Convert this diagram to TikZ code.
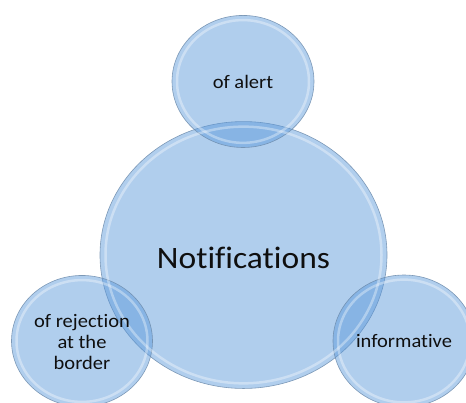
\documentclass[tikz,border=0pt]{standalone}
\usepackage{fontspec}
\setmainfont{Carlito}[Ligatures=NoCommon]
\definecolor{bfill}{RGB}{90,152,218}
\definecolor{bedge}{RGB}{110,140,172}
\definecolor{btext}{RGB}{15,15,15}
\begin{document}
\begin{tikzpicture}[x=1pt,y=-1pt,yscale=0.93,
  bubble/.style={circle, draw=bedge, line width=0.6pt, fill=bfill, fill opacity=0.48, draw opacity=0.85, inner sep=0pt, transform shape},
  rim/.style={white, line width=2.5pt, opacity=0.35},
  lbl/.style={align=center, text=btext, font=\fontsize{20.5}{22.5}\selectfont, inner sep=0pt, transform shape},
  biglbl/.style={text=btext, font=\fontsize{33.5}{36}\selectfont, inner sep=0pt, transform shape}]
\useasboundingbox (0,0) rectangle (466,433.33);
\node[bubble, minimum size=287pt] (main) at (243.5,274.2) {};
\node[bubble, minimum size=142pt] (alert) at (243,87.6) {};
\node[bubble, minimum size=141pt] (reject) at (82,366.7) {};
\node[bubble, minimum size=142pt] (info) at (404,366.7) {};
\draw[rim] (main.center) circle[radius=138];
\draw[rim] (alert.center) circle[radius=66];
\draw[rim] (reject.center) circle[radius=65.5];
\draw[rim] (info.center) circle[radius=66];
\node[biglbl] (tmain) at ([yshift=-3]main.center) {Notifications};
\node[lbl] (talert) at (alert.center) {of alert};
\node[lbl] (treject) at ([yshift=-1]reject.center) {of rejection\\at the\\border};
\node[lbl] (tinfo) at (info.center) {informative};
\end{tikzpicture}
\end{document}
